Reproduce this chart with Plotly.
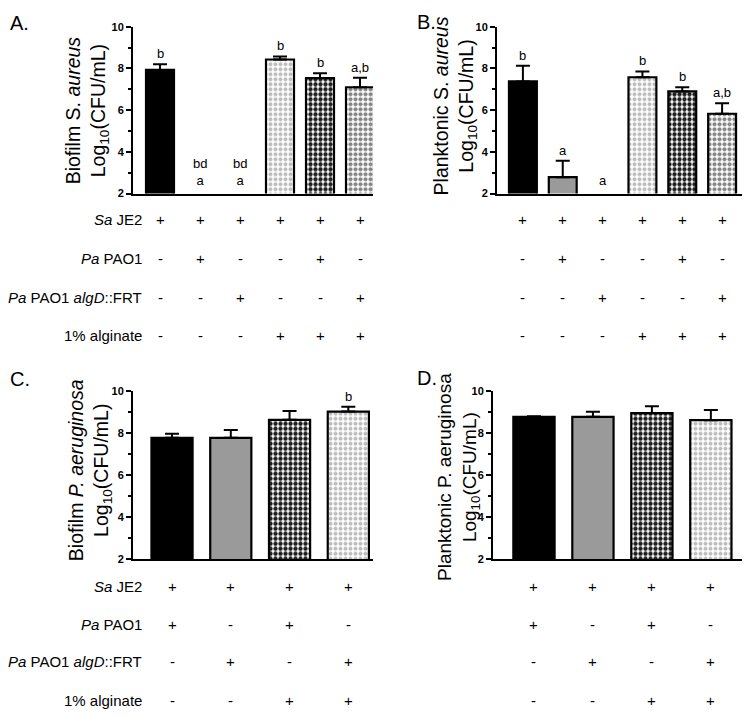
import plotly.graph_objects as go

# ---------------- data ----------------
cond_top = ["JE2", "JE2+PAO1", "JE2+algD", "JE2+alg", "JE2+PAO1+alg", "JE2+algD+alg"]
sa_top = ["+", "+", "+", "+", "+", "+"]
pao1_top = ["-", "+", "-", "-", "+", "-"]
algd_top = ["-", "-", "+", "-", "-", "+"]
alginate_top = ["-", "-", "-", "+", "+", "+"]

biofilm_sa = [7.93, None, None, 8.43, 7.54, 7.10]
biofilm_sa_err = [0.27, 0, 0, 0.15, 0.23, 0.46]
biofilm_sa_sig = ["b", "bd<br>a", "bd<br>a", "b", "b", "a,b"]

plank_sa = [7.38, 2.79, None, 7.58, 6.90, 5.83]
plank_sa_err = [0.75, 0.78, 0, 0.28, 0.20, 0.50]
plank_sa_sig = ["b", "a", "a", "b", "b", "a,b"]

cond_bot = ["PAO1", "algD", "PAO1+alg", "algD+alg"]
sa_bot = ["+", "+", "+", "+"]
pao1_bot = ["+", "-", "+", "-"]
algd_bot = ["-", "+", "-", "+"]
alginate_bot = ["-", "-", "+", "+"]

biofilm_pa = [7.78, 7.78, 8.64, 9.03]
biofilm_pa_err = [0.19, 0.37, 0.42, 0.23]
biofilm_pa_sig = ["", "", "", "b"]

plank_pa = [8.78, 8.78, 8.96, 8.62]
plank_pa_err = [0.03, 0.24, 0.32, 0.48]

row_labels = ["<i>Sa</i> JE2", "<i>Pa</i> PAO1", "<i>Pa</i> PAO1 <i>algD</i>::FRT", "1% alginate"]

# ---------------- styles ----------------
FONT = "Liberation Sans, Arial, Helvetica, sans-serif"
# page body has an 8px default margin; figure is sized to fill the rest of the window
OFF = 8
W, H = 750 - OFF, 716 - OFF

def py(px):
    return 1 - (px - OFF) / H

def px_x(px):
    return (px - OFF) / W

STY = {
    "black": dict(color="black", shape="", fg="black", bg="black", sol=0.5),
    "gray": dict(color="#9a9a9a", shape="", fg="#9a9a9a", bg="#9a9a9a", sol=0.5),
    "light": dict(color="#d8d8d8", shape=".", fg="#bdbdbd", bg="white", sol=0.5),
    "dark": dict(color="#555555", shape=".", fg="#1e1e1e", bg="white", sol=0.6),
    "medium": dict(color="#b0b0b0", shape=".", fg="#858585", bg="white", sol=0.55),
}
top_styles = ["black", "gray", "gray", "light", "dark", "medium"]
bot_styles = ["black", "gray", "dark", "light"]

fig = go.Figure()

def add_bars(vals, errs, styles, xa, ya):
    for i, (v, e, s) in enumerate(zip(vals, errs, styles)):
        if v is None:
            continue
        st = STY[s]
        marker = dict(color=st["color"], line=dict(color="black", width=2.2))
        if st["shape"]:
            marker["pattern"] = dict(shape=st["shape"], fgcolor=st["fg"], bgcolor=st["bg"],
                                     solidity=st["sol"], size=5, fillmode="replace")
        fig.add_trace(go.Bar(
            x=[i], y=[v], width=0.7, xaxis=xa, yaxis=ya, showlegend=False,
            marker=marker,
            error_y=dict(type="data", symmetric=False, array=[e], arrayminus=[0],
                         color="black", thickness=2, width=7),
        ))

add_bars(biofilm_sa, biofilm_sa_err, top_styles, "x", "y")
add_bars(plank_sa, plank_sa_err, top_styles, "x2", "y2")
add_bars(biofilm_pa, biofilm_pa_err, bot_styles, "x3", "y3")
add_bars(plank_pa, plank_pa_err, bot_styles, "x4", "y4")

def yax(dom, anchor):
    return dict(domain=dom, anchor=anchor, range=[2, 10], tickvals=[2, 4, 6, 8, 10],
                ticks="outside", ticklen=5, tickwidth=2, tickcolor="black",
                showline=True, linewidth=2, linecolor="black", showgrid=False,
                zeroline=False, fixedrange=True,
                tickfont=dict(family=FONT, size=11, color="black", weight="bold"),
                minor=dict(tickvals=[3, 5, 7, 9], ticks="outside", ticklen=3,
                           tickwidth=2, tickcolor="black", showgrid=False))

def xax(dom, rng, anchor):
    return dict(domain=dom, anchor=anchor, range=rng, showline=True, linewidth=2,
                linecolor="black", showticklabels=False, ticks="", showgrid=False,
                zeroline=False, fixedrange=True)

ytop = [py(190.7), py(21)]
ybot = [py(562.7), py(391.7)]
fig.update_layout(
    xaxis=xax([px_x(133), px_x(373)], [-0.675, 5.325], "y"),
    yaxis=yax(ytop, "x"),
    xaxis2=xax([px_x(497), px_x(748)], [-0.65, 5.65], "y2"),
    yaxis2=yax(ytop, "x2"),
    xaxis3=xax([px_x(133), px_x(373)], [-0.664, 3.42], "y3"),
    yaxis3=yax(ybot, "x3"),
    xaxis4=xax([px_x(493), px_x(748)], [-0.695, 3.63], "y4"),
    yaxis4=yax(ybot, "x4"),
)

ann = []

# significance letters
def sig(vals, errs, labels, xa, ya):
    for i, (v, e, t) in enumerate(zip(vals, errs, labels)):
        if not t:
            continue
        if v is None:
            ann.append(dict(x=i, y=2, xref=xa, yref=ya, text=t, showarrow=False,
                            yanchor="bottom", yshift=4,
                            font=dict(family=FONT, size=13, color="black")))
        else:
            ann.append(dict(x=i, y=v + e, xref=xa, yref=ya, text=t, showarrow=False,
                            yanchor="bottom", yshift=1,
                            font=dict(family=FONT, size=13, color="black")))

sig(biofilm_sa, biofilm_sa_err, biofilm_sa_sig, "x", "y")
sig(plank_sa, plank_sa_err, plank_sa_sig, "x2", "y2")
sig(biofilm_pa, biofilm_pa_err, biofilm_pa_sig, "x3", "y3")

# condition tables
top_rows_px = [216.7, 256.7, 296, 335]
bot_rows_px = [590, 629, 667, 706]

def table(rows, rows_px, xa, labels):
    for r, (row, ypx) in enumerate(zip(rows, rows_px)):
        for i, s in enumerate(row):
            ann.append(dict(x=i, y=py(ypx), xref=xa, yref="paper", text=s,
                            showarrow=False, xanchor="center", yanchor="middle",
                            font=dict(family=FONT, size=15, color="black")))
        if labels:
            ann.append(dict(x=px_x(144), y=py(ypx), xref="paper", yref="paper",
                            text=row_labels[r], showarrow=False, xanchor="right",
                            yanchor="middle",
                            font=dict(family=FONT, size=15, color="black")))

table([sa_top, pao1_top, algd_top, alginate_top], top_rows_px, "x", True)
table([sa_top, pao1_top, algd_top, alginate_top], top_rows_px, "x2", False)
table([sa_bot, pao1_bot, algd_bot, alginate_bot], bot_rows_px, "x3", True)
table([sa_bot, pao1_bot, algd_bot, alginate_bot], bot_rows_px, "x4", False)

# y-axis titles
titles = [
    ("Biofilm S. <i>aureus</i><br>Log<sub>10</sub>(CFU/mL)", 87, 106, 19.5),
    ("Planktonic S. <i>aureus</i><br>Log<sub>10</sub>(CFU/mL)", 455, 102, 19.5),
    ("Biofilm <i>P. aeruginosa</i><br>Log<sub>10</sub>(CFU/mL)", 90, 472, 19.5),
    ("Planktonic P. aeruginosa<br>Log<sub>10</sub>(CFU/mL)", 458, 479, 19),
]
for t, xpx, ypx, fs in titles:
    ann.append(dict(x=px_x(xpx), y=py(ypx), xref="paper", yref="paper", text=t,
                    textangle=-90, showarrow=False, xanchor="center", yanchor="middle",
                    font=dict(family=FONT, size=fs, color="black")))

# panel letters
for t, xpx, ypx in [("A.", 8, 17), ("B.", 415, 16), ("C.", 8, 379), ("D.", 415, 378)]:
    ann.append(dict(x=px_x(xpx), y=py(ypx), xref="paper", yref="paper", text=t,
                    showarrow=False, xanchor="left", yanchor="middle",
                    font=dict(family=FONT, size=20, color="black")))

fig.update_layout(
    annotations=ann,
    width=W, height=H,
    margin=dict(l=0, r=0, t=0, b=0),
    paper_bgcolor="white", plot_bgcolor="white",
    barmode="overlay",
    font=dict(family=FONT, color="black"),
)

fig.write_html("out.html")
